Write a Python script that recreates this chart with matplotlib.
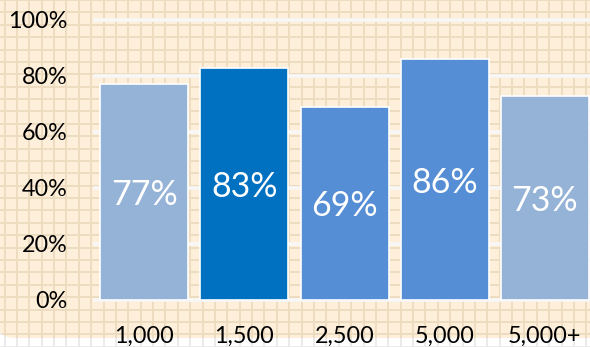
import matplotlib
matplotlib.use("Agg")
import matplotlib.pyplot as plt
from matplotlib.patches import FancyBboxPatch
import numpy as np

# Chart data
categories = ["1,000", "1,500", "2,500", "5,000", "5,000+"]
shares = [0.77, 0.83, 0.69, 0.86, 0.73]
bar_colors = ["#95B3D7", "#0070C0", "#558ED5", "#558ED5", "#95B3D7"]
y_ticks = [0.0, 0.2, 0.4, 0.6, 0.8, 1.0]
y_tick_labels = ["0%", "20%", "40%", "60%", "80%", "100%"]

W, H = 590, 347
plt.rcParams["font.family"] = ["Lato", "DejaVu Sans"]
fig = plt.figure(figsize=(W / 100, H / 100), dpi=100)
fig.patch.set_facecolor("white")

# Background: graph-paper texture with a rounded cream panel
bg = fig.add_axes([0, 0, 1, 1], zorder=0)
bg.set_xlim(0, W)
bg.set_ylim(H, 0)
bg.axis("off")
step = 12.38
xs = np.arange(4.5, W + step, step)
ys = np.arange(0.0, H + step, step)
for x in xs:
    bg.plot([x, x], [0, H], color="#E6E6E6", lw=1.1, zorder=1)
for y in ys:
    bg.plot([0, W], [y, y], color="#E6E6E6", lw=1.1, zorder=1)
panel = FancyBboxPatch((-3, -30), W + 40, 368, boxstyle="round,pad=0,rounding_size=18",
                       facecolor="#FDEFDA", edgecolor="none", zorder=2)
bg.add_patch(panel)
for x in xs:
    ln, = bg.plot([x, x], [0, H], color="#EEDCC1", lw=1.4, zorder=3)
    ln.set_clip_path(panel)
for y in ys:
    ln, = bg.plot([0, W], [y, y], color="#EEDCC1", lw=1.4, zorder=3)
    ln.set_clip_path(panel)

# Main chart area
left_px, right_px, top_px, bot_px = 95, 590, 20, 300
ax = fig.add_axes([left_px / W, (H - bot_px) / H, (right_px - left_px) / W, (bot_px - top_px) / H],
                  zorder=1)
ax.patch.set_alpha(0)
x = np.arange(len(categories))
ax.bar(x, shares, width=0.88, color=bar_colors, edgecolor="white", linewidth=1.2, zorder=3)
for xi, v in zip(x, shares):
    ax.text(xi, v / 2, f"{round(v * 100)}%", ha="center", va="center_baseline",
            color="white", fontsize=24.5, zorder=4)

ax.set_xlim(-0.495, 4.455)
ax.set_ylim(0, 1.0)
ax.set_yticks(y_ticks)
ax.set_yticklabels(y_tick_labels)
ax.set_xticks(x)
ax.set_xticklabels(categories)
ax.yaxis.grid(True, color="#F7F7F7", linewidth=2.6, zorder=0)
ax.set_axisbelow(True)
for gl in ax.get_ygridlines():
    gl.set_clip_on(False)
for s in ax.spines.values():
    s.set_visible(False)
ax.tick_params(axis="both", length=0, labelsize=16.8, colors="black")
ax.tick_params(axis="y", pad=19.5)
ax.tick_params(axis="x", pad=18.5)

fig.savefig("out.png", dpi=100)
